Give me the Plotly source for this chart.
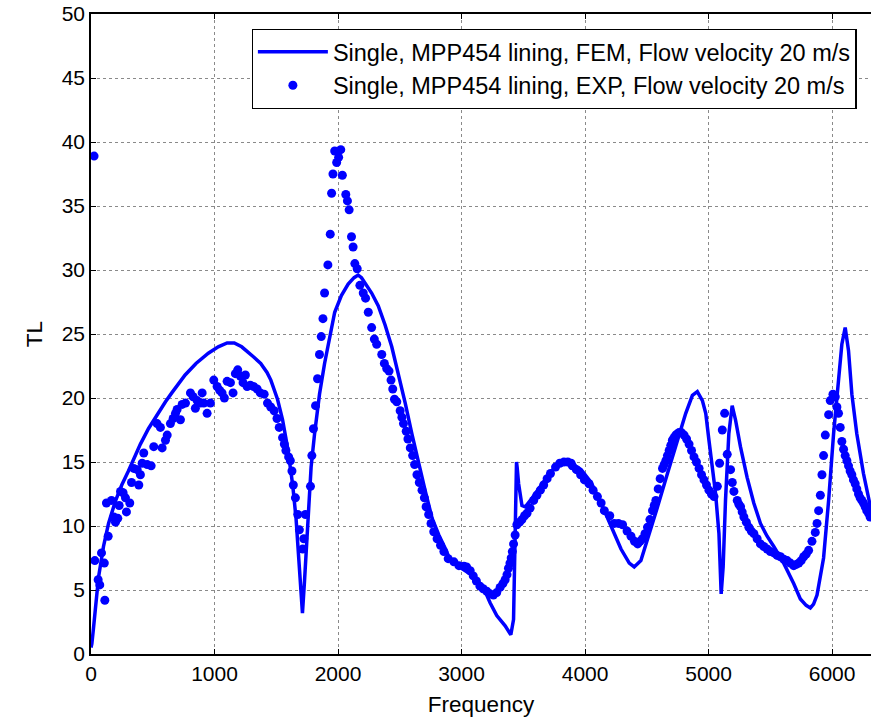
import plotly.graph_objects as go

# FEM (solid line)
fem_freq = [0, 7, 20, 34, 61, 101, 142, 196, 249, 303, 346, 400, 465, 546, 603, 654, 762, 850, 950,
            1030, 1102, 1160, 1220, 1317, 1374, 1425, 1456, 1510, 1551, 1592, 1633, 1660, 1674, 1695,
            1712, 1728, 1742, 1763, 1782, 1810, 1850, 1891, 1932, 1973, 2027, 2082, 2130, 2163, 2190,
            2218, 2272, 2326, 2381, 2435, 2490, 2544, 2598, 2653, 2707, 2762, 2816, 2870, 2905, 2950,
            3000, 3095, 3177, 3231, 3285, 3353, 3399, 3421, 3427, 3437, 3445, 3450, 3462, 3489, 3516,
            3557, 3638, 3720, 3801, 3850, 3887, 3968, 4049, 4129, 4210, 4291, 4358, 4398, 4452, 4506,
            4587, 4667, 4748, 4815, 4869, 4909, 4950, 4977, 5003, 5030, 5057, 5084, 5102, 5118, 5137,
            5164, 5191, 5218, 5258, 5312, 5366, 5420, 5474, 5528, 5608, 5689, 5743, 5790, 5824, 5850,
            5878, 5931, 5972, 6012, 6052, 6079, 6106, 6133, 6160, 6200, 6254, 6307, 6330]
fem_tl = [0.5, 0.8, 2.0, 3.2, 6.0, 8.4, 10.2, 11.9, 13.2, 14.3, 15.3, 16.4, 17.6, 18.9, 19.7, 20.4, 21.8, 22.7, 23.5,
          24.0, 24.3, 24.3, 24.0, 23.2, 22.7, 22.0, 21.4, 19.9, 18.3, 16.1, 13.2, 10.6, 8.5, 5.9,
          3.2, 5.6, 8.0, 11.9, 14.6, 17.2, 20.3, 22.7, 24.8, 26.7, 28.0, 28.9, 29.4, 29.6, 29.4,
          29.0, 28.2, 27.2, 25.7, 24.0, 21.9, 19.6, 17.2, 14.8, 12.7, 10.6, 9.3, 8.2, 7.4, 7.1,
          6.7, 6.1, 5.2, 4.0, 3.0, 2.2, 1.5, 2.7, 6.8, 13.3, 15.0, 14.6, 13.3, 11.6, 11.5,
          12.0, 13.1, 14.2, 15.0, 15.1, 14.9, 14.4, 13.4, 11.8, 10.0, 8.2, 7.1, 6.8, 7.3, 8.9,
          11.5, 14.1, 16.7, 18.8, 20.2, 20.5, 19.8, 18.8, 16.7, 14.6, 12.5, 9.4, 4.7, 6.8, 12.0,
          17.2, 19.4, 18.3, 16.2, 13.8, 11.8, 10.2, 9.2, 8.4, 7.1, 5.5, 4.3, 3.8, 3.6, 3.9,
          4.6, 7.5, 12.0, 17.2, 21.1, 24.2, 25.5, 23.7, 20.3, 17.2, 14.1, 11.5, 10.6]

# EXP (dots)
exp_freq = [25, 31, 58, 71, 85, 108, 112, 125, 139, 166, 185, 198, 217, 228, 239, 260, 279, 287, 314, 328,
            346, 374, 387, 400, 414, 427, 455, 487, 508, 535, 562, 576, 603, 617, 643, 665, 684, 697, 724,
            738, 765, 805, 827, 845, 859, 886, 900, 913, 940, 967, 994, 1021, 1042, 1061, 1080, 1102, 1129,
            1150, 1169, 1188, 1210, 1231, 1250, 1264, 1290, 1317, 1345, 1371, 1402, 1429, 1455, 1483, 1506,
            1524, 1551, 1565, 1578, 1600, 1614, 1627, 1638, 1655, 1674, 1687, 1714, 1723, 1736, 1777, 1788,
            1801, 1818, 1834, 1850, 1864, 1878, 1891, 1918, 1937, 1948, 1959, 1973, 1989, 2005, 2022, 2035,
            2063, 2076, 2090, 2109, 2122, 2136, 2155, 2177, 2204, 2223, 2245, 2272, 2294, 2313, 2354, 2375,
            2394, 2413, 2429, 2443, 2457, 2476, 2503, 2517, 2530, 2552, 2566, 2585, 2604, 2620, 2639, 2658,
            2680, 2699, 2713, 2734, 2753, 2775, 2802, 2830, 2857, 2892, 2938, 2979, 3020, 3041, 3070, 3095,
            3120, 3149, 3175, 3204, 3230, 3258, 3285, 3312, 3335, 3353, 3368, 3380, 3392, 3402, 3411, 3421,
            3434, 3448, 3470, 3489, 3510, 3530, 3555, 3584, 3610, 3638, 3665, 3693, 3720, 3761, 3795, 3829,
            3860, 3887, 3897, 3930, 3964, 3995, 4032, 4065, 4100, 4130, 4156, 4200, 4237, 4270, 4304, 4340,
            4372, 4400, 4426, 4445, 4465, 4485, 4506, 4525, 4546, 4560, 4573, 4592, 4608, 4627, 4640, 4654,
            4667, 4681, 4694, 4707, 4720, 4734, 4748, 4761, 4780, 4802, 4822, 4842, 4862, 4882, 4902, 4923,
            4943, 4963, 4983, 5003, 5023, 5044, 5071, 5089, 5111, 5130, 5151, 5178, 5192, 5205, 5232, 5245,
            5259, 5272, 5286, 5306, 5326, 5346, 5367, 5393, 5420, 5447, 5474, 5500, 5528, 5555, 5582, 5609,
            5636, 5662, 5689, 5710, 5730, 5750, 5770, 5790, 5810, 5837, 5864, 5878, 5891, 5905, 5918, 5931,
            5945, 5972, 5985, 6007, 6026, 6039, 6052, 6066, 6079, 6093, 6106, 6120, 6133, 6146, 6160, 6173,
            6187, 6200, 6214, 6227, 6241, 6254, 6268, 6281, 6295, 6308]
exp_tl = [38.9, 7.3, 5.8, 5.4, 7.9, 7.1, 4.2, 11.8, 9.2, 12.0, 10.7, 10.3, 10.6, 11.6, 12.7, 12.6, 12.2, 11.1, 11.8, 13.4,
          14.5, 14.4, 13.2, 14.0, 14.9, 15.7, 14.8, 14.7, 16.2, 18.0, 17.7, 16.1, 16.7, 17.1, 18.0, 18.4, 18.8, 19.1, 18.3,
          19.5, 19.6, 20.4, 20.1, 19.2, 19.8, 19.6, 20.4, 19.6, 18.8, 19.6, 21.4, 20.9, 20.6, 20.4, 20.0, 21.3, 21.2,
          20.4, 21.9, 22.2, 21.7, 21.2, 21.8, 20.9, 21.0, 20.9, 20.7, 20.4, 20.3, 19.6, 19.3, 19.0, 18.4,
          17.7, 16.9, 16.4, 15.9, 15.4, 15.1, 14.3, 13.2, 12.2, 10.9, 9.7, 8.2, 9.0, 10.9, 13.1, 15.5,
          17.6, 19.4, 21.5, 23.4, 24.8, 26.2, 28.2, 30.4, 32.8, 36.0, 37.5, 39.3, 38.4, 38.8, 39.4, 37.4,
          35.9, 35.4, 34.7, 32.6, 31.8, 30.5, 30.1, 28.8, 28.2, 27.8, 26.7, 25.5, 24.6, 24.2, 23.4, 22.7,
          22.3, 22.1, 21.4, 20.7, 19.9, 19.7, 19.0, 18.5, 18.0, 17.4, 16.8, 16.1, 15.5, 14.8, 14.0, 13.4,
          12.8, 12.2, 11.5, 10.9, 10.2, 9.55, 9.0, 8.5, 8.0, 7.45, 7.2, 6.9, 6.85, 6.8, 6.5, 6.1,
          5.7, 5.3, 5.1, 4.9, 4.7, 4.6, 4.8, 5.2, 5.5, 5.8, 6.2, 6.7, 7.1, 7.5, 8.0, 8.6,
          9.3, 10.1, 10.3, 10.5, 10.8, 11.0, 11.4, 12.0, 12.4, 12.8, 13.2, 13.7, 14.1, 14.6, 14.9, 15.0,
          15.0, 14.9, 14.7, 14.4, 14.0, 13.6, 13.3, 12.8, 12.3, 11.8, 11.2, 10.8, 10.2, 10.2, 10.1, 9.6,
          9.2, 8.8, 8.6, 8.8, 9.0, 9.4, 9.9, 10.5, 11.2, 11.6, 12.0, 12.9, 13.7, 14.5, 14.8, 15.1,
          15.5, 15.9, 16.3, 16.7, 16.9, 17.1, 17.2, 17.3, 17.3, 17.1, 16.8, 16.4, 15.9, 15.4, 15.0, 14.5,
          14.0, 13.6, 13.2, 12.8, 12.5, 12.3, 13.1, 14.9, 17.5, 18.8, 15.6, 14.4, 13.4, 12.7, 12.0, 11.7,
          11.5, 11.1, 10.7, 10.3, 9.9, 9.6, 9.4, 9.0, 8.6, 8.4, 8.2, 8.0, 7.9, 7.7, 7.6, 7.4,
          7.3, 7.1, 6.9, 7.0, 7.1, 7.3, 7.6, 7.8, 8.1, 8.8, 9.5, 10.2, 11.2, 12.4, 14.0, 15.5,
          17.1, 18.7, 19.8, 20.3, 20.1, 19.3, 18.8, 17.7, 16.6, 16.0, 15.5, 15.1, 14.7, 14.3, 14.0, 13.6,
          13.3, 12.9, 12.5, 12.2, 12.0, 11.8, 11.5, 11.2, 11.0, 10.7]

x_ticks = [0, 1000, 2000, 3000, 4000, 5000, 6000]
y_ticks = [0, 5, 10, 15, 20, 25, 30, 35, 40, 45, 50]

FONT = "Arial, Liberation Sans, sans-serif"

fig = go.Figure()
fig.add_trace(go.Scatter(x=fem_freq, y=fem_tl, mode="lines",
                         line=dict(color="#0000ff", width=3.5),
                         name="Single, MPP454 lining, FEM, Flow velocity 20 m/s"))
fig.add_trace(go.Scatter(x=exp_freq, y=exp_tl, mode="markers",
                         marker=dict(color="#0000ff", size=9, line=dict(width=0)),
                         name="Single, MPP454 lining, EXP, Flow velocity 20 m/s"))

axis_common = dict(showgrid=True, gridcolor="#8a8a8a", griddash="dot", gridwidth=1,
                   zeroline=False, showline=True, linecolor="black", linewidth=1.5,
                   ticks="inside", ticklen=5, tickcolor="black",
                   tickfont=dict(family=FONT, size=21, color="black"))

fig.update_xaxes(range=[0, 6315], tickvals=x_ticks, ticktext=[str(v) for v in x_ticks],
                 mirror="ticks",
                 title=dict(text="Frequency", font=dict(family=FONT, size=22.5, color="black"), standoff=12),
                 **axis_common)
fig.update_yaxes(range=[0, 50], tickvals=y_ticks, ticktext=[str(v) for v in y_ticks],
                 title=dict(text="TL", font=dict(family=FONT, size=22.5, color="black"), standoff=13),
                 **axis_common)

fig.update_layout(
    width=871, height=718,
    margin=dict(l=91, r=0, t=14, b=64),
    plot_bgcolor="white", paper_bgcolor="white",
    font=dict(family=FONT, color="black"),
    legend=dict(x=0.206, y=0.977, xanchor="left", yanchor="top",
                bgcolor="white", bordercolor="black", borderwidth=1.2,
                font=dict(family=FONT, size=23.5, color="black"),
                itemwidth=70),
    showlegend=True,
)

fig.write_html("out.html")
